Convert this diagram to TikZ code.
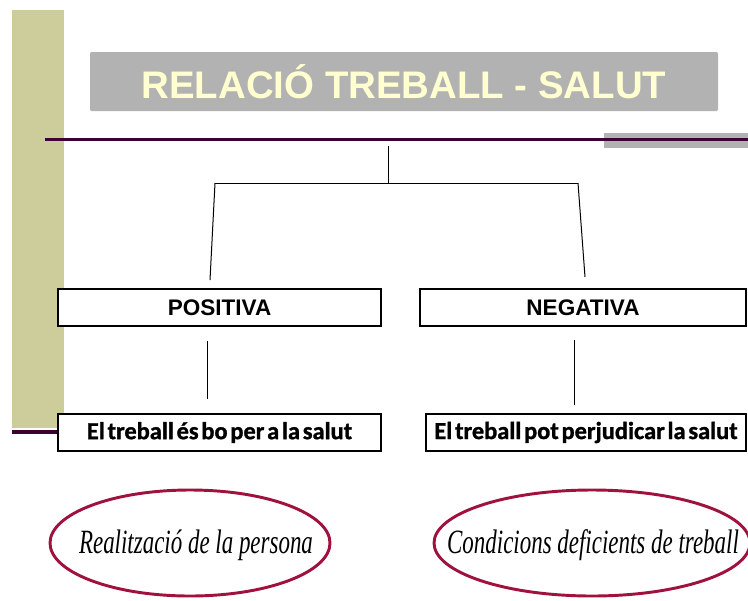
\documentclass[tikz,border=0pt]{standalone}
\usepackage{fontspec}
\setmainfont{Liberation Serif}
\newfontfamily\hvf{Liberation Sans}
\newfontfamily\carl[WordSpace=0.5,FakeBold=1.2]{Carlito}
\newfontfamily\narrit[FakeStretch=0.675]{Liberation Serif}
\usetikzlibrary{shapes.geometric}
\definecolor{olive}{RGB}{205,205,155}
\definecolor{titlegray}{RGB}{178,178,178}
\definecolor{cream}{RGB}{255,255,208}
\definecolor{plum}{RGB}{62,0,46}
\definecolor{maroon}{RGB}{160,18,62}
\tikzset{
  box/.style={draw=black, line width=1.5pt, fill=white, inner sep=0pt,
    minimum height=27.75pt},
  hdr/.style={box, font=\hvf\bfseries\fontsize{16.9}{18}\selectfont},
  sub/.style={box, font=\carl\bfseries\fontsize{18.3}{20}\selectfont},
  oval/.style={ellipse, draw=maroon, line width=2.2pt, inner sep=0pt,
    minimum height=79.5pt},
  ovaltext/.style={inner sep=0pt, font=\narrit\itshape\fontsize{25.5}{27}\selectfont},
  conn/.style={draw=black, line width=0.75pt}
}
\begin{document}
\begin{tikzpicture}[x=0.75pt, y=-0.75pt]
\clip (0,0) rectangle (748,600);
\fill[white] (0,0) rectangle (748,600);
% olive side bar
\fill[olive] (12,10) rectangle (64,428);
% title
\node[fill=titlegray, rounded corners=1pt, minimum width=471pt, minimum height=44.25pt,
  inner sep=0pt, text=cream, font=\hvf\bfseries\fontsize{28.8}{30}\selectfont]
  (title) at (404,81.5) {RELACIÓ TREBALL - SALUT};
% gray tab and rule
\fill[titlegray] (604,133) rectangle (748,148);
\draw[plum, line width=1.6pt] (45,139.5) -- (748,139.5);
\draw[plum, line width=2.4pt] (12,432) -- (60,432);
% boxes
\node[hdr, minimum width=242.25pt] (pos) at (219.5,307.5) {POSITIVA};
\node[hdr, minimum width=244.5pt] (neg) at (583,307.5) {NEGATIVA};
\node[sub, minimum width=242.25pt] (bo) at (219.5,432.5) {El treball és bo per a la salut};
\node[sub, minimum width=240pt] (perj) at (586,432.5) {El treball pot perjudicar la salut};
% ellipses
\node[oval, minimum width=210pt] (real) at (190,543) {};
\node[ovaltext] (realt) at (196,545) {Realització de la persona};
\node[oval, minimum width=237pt] (cond) at (592,543) {};
\node[ovaltext] (condt) at (593,545) {Condicions deficients de treball};
% connectors
\coordinate (top) at (388,146);
\coordinate (mid) at (388,184);
\coordinate (jl) at (215,183);
\coordinate (jr) at (578,183);
\coordinate (pl) at (210,280);
\coordinate (pr) at (585,277);
\draw[conn] (top) -- (mid);
\draw[conn] (jl) -- (jr);
\draw[conn] (jl) -- (pl);
\draw[conn] (jr) -- (pr);
\coordinate (la) at (207,341);
\coordinate (lb) at (207,399);
\coordinate (ra) at (574,340);
\coordinate (rb) at (574,405);
\draw[conn] (la) -- (lb);
\draw[conn] (ra) -- (rb);
\end{tikzpicture}
\end{document}
